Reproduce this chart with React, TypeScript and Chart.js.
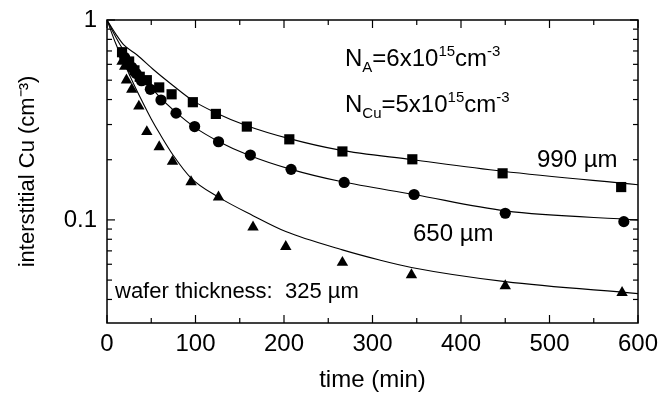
import React, { useEffect, useRef } from "react";
import { Chart, registerables } from "chart.js";

Chart.register(...registerables);

// ---- data (time in min, interstitial Cu normalised) ----
const T_990 = [17, 25, 31, 37, 45, 59, 73, 97, 123, 158, 206, 266, 345, 447, 581];
const Y_990 = [0.69, 0.62, 0.56, 0.52, 0.5, 0.46, 0.425, 0.388, 0.339, 0.293, 0.253, 0.22, 0.201, 0.171, 0.146];

const T_650 = [20, 28, 33, 39, 49, 61, 78, 99, 126, 162, 208, 268, 347, 450, 584];
const Y_650 = [0.65, 0.58, 0.54, 0.497, 0.45, 0.398, 0.342, 0.293, 0.246, 0.211, 0.179, 0.154, 0.134, 0.108, 0.098];

const T_325 = [17, 20, 22, 28, 36, 45, 59, 74, 95, 126, 165, 202, 266, 344, 450, 582];
const Y_325 = [0.62, 0.585, 0.5, 0.45, 0.37, 0.276, 0.232, 0.196, 0.155, 0.13, 0.092, 0.0735, 0.0612, 0.0531, 0.0468, 0.0433];

// fitted curves
const FIT_T_990 = [0, 10, 19, 34, 53, 72, 97, 122, 158, 206, 262, 345, 447, 600];
const FIT_Y_990 = [1, 0.85, 0.75, 0.668, 0.562, 0.48, 0.395, 0.345, 0.296, 0.255, 0.224, 0.2, 0.175, 0.15];

const FIT_T_650 = [0, 10, 20, 30, 40, 50, 61, 78, 98, 126, 161, 208, 263, 347, 450, 600];
const FIT_Y_650 = [1, 0.82, 0.69, 0.595, 0.52, 0.46, 0.405, 0.345, 0.293, 0.247, 0.21, 0.179, 0.156, 0.134, 0.111, 0.1];

const FIT_T_325 = [0, 10, 20, 30, 40, 50, 60, 75, 95, 126, 165, 202, 266, 308, 344, 450, 600];
const FIT_Y_325 = [1, 0.76, 0.6, 0.48, 0.39, 0.32, 0.268, 0.21, 0.162, 0.13, 0.105, 0.0874, 0.0708, 0.063, 0.0578, 0.0491, 0.0428];

// axes
const X_MIN = 0;
const X_MAX = 600;
const X_TICKS = [0, 50, 100, 150, 200, 250, 300, 350, 400, 450, 500, 550, 600];
const X_LABELED = [0, 100, 200, 300, 400, 500, 600];
const Y_MIN = 0.0305;
const Y_MAX = 1;
const Y_TICKS = [0.04, 0.05, 0.06, 0.07, 0.08, 0.09, 0.1, 0.2, 0.3, 0.4, 0.5, 0.6, 0.7, 0.8, 0.9, 1];
const Y_LABELED = [0.1, 1];

const X_TITLE = "time (min)";
const Y_TITLE = "interstitial Cu (cm\u207B\u00B3)";

type Part = [string, "n" | "sub" | "sup"];
const NOTES: { x: number; y: number; size: number; parts: Part[] }[] = [
  { x: 345, y: 66, size: 24, parts: [["N", "n"], ["A", "sub"], ["=6x10", "n"], ["15", "sup"], ["cm", "n"], ["-3", "sup"]] },
  { x: 345, y: 112, size: 24, parts: [["N", "n"], ["Cu", "sub"], ["=5x10", "n"], ["15", "sup"], ["cm", "n"], ["-3", "sup"]] },
  { x: 537, y: 167, size: 24, parts: [["990 \u00B5m", "n"]] },
  { x: 413, y: 241, size: 24, parts: [["650 \u00B5m", "n"]] },
  { x: 115, y: 298, size: 22, parts: [["wafer thickness:  325 \u00B5m", "n"]] },
];

const FONT = "'Liberation Sans', Arial, sans-serif";

const pts = (t: number[], y: number[]) => t.map((v, i) => ({ x: v, y: y[i] }));

const framePlugin = {
  id: "frame",
  afterDraw(chart: any) {
    const { ctx, chartArea: a, scales } = chart;
    ctx.save();
    ctx.strokeStyle = "#000";
    ctx.lineWidth = 1.5;
    ctx.strokeRect(a.left, a.top, a.right - a.left, a.bottom - a.top);
    ctx.lineWidth = 1.2;
    const line = (x1: number, y1: number, x2: number, y2: number) => {
      ctx.beginPath();
      ctx.moveTo(x1, y1);
      ctx.lineTo(x2, y2);
      ctx.stroke();
    };
    const xs = scales.x;
    X_TICKS.forEach((v) => {
      const px = xs.getPixelForValue(v);
      const len = X_LABELED.includes(v) ? 8 : 5;
      line(px, a.bottom, px, a.bottom - len);
      line(px, a.top, px, a.top + len);
    });
    const ys = scales.y;
    Y_TICKS.forEach((v) => {
      const py = ys.getPixelForValue(v);
      const len = Y_LABELED.includes(v) ? 8 : 5;
      line(a.left, py, a.left + len, py);
      line(a.right, py, a.right - len, py);
    });
    // annotations
    ctx.fillStyle = "#000";
    ctx.textBaseline = "alphabetic";
    ctx.textAlign = "left";
    NOTES.forEach((n) => {
      let x = n.x;
      n.parts.forEach(([txt, mode]) => {
        const s = mode === "n" ? n.size : Math.round(n.size * 0.64);
        const dy = mode === "sub" ? 6 : mode === "sup" ? -10 : 0;
        ctx.font = `${s}px ${FONT}`;
        ctx.fillText(txt, x, n.y + dy);
        x += ctx.measureText(txt).width;
      });
    });
    ctx.restore();
  },
};

export default function App() {
  const ref = useRef<HTMLCanvasElement | null>(null);
  useEffect(() => {
    if (!ref.current) return;
    const black = "#000";
    const chart = new Chart(ref.current, {
      type: "scatter",
      data: {
        datasets: [
          { label: "990", data: pts(T_990, Y_990), pointStyle: "rect", pointRadius: 7.2, backgroundColor: black, borderColor: black, borderWidth: 0, showLine: false },
          { label: "650", data: pts(T_650, Y_650), pointStyle: "circle", pointRadius: 5.6, backgroundColor: black, borderColor: black, borderWidth: 0, showLine: false },
          { label: "325", data: pts(T_325, Y_325), pointStyle: "triangle", pointRadius: 6.6, backgroundColor: black, borderColor: black, borderWidth: 0, showLine: false },
          { label: "fit990", data: pts(FIT_T_990, FIT_Y_990), showLine: true, pointRadius: 0, borderColor: black, borderWidth: 1.1, cubicInterpolationMode: "monotone" },
          { label: "fit650", data: pts(FIT_T_650, FIT_Y_650), showLine: true, pointRadius: 0, borderColor: black, borderWidth: 1.1, cubicInterpolationMode: "monotone" },
          { label: "fit325", data: pts(FIT_T_325, FIT_Y_325), showLine: true, pointRadius: 0, borderColor: black, borderWidth: 1.1, cubicInterpolationMode: "monotone" },
        ] as any,
      },
      options: {
        animation: false,
        responsive: false,
        layout: { padding: { top: 20, right: 24, left: 0, bottom: 0 } },
        plugins: { legend: { display: false }, tooltip: { enabled: false } },
        scales: {
          x: {
            type: "linear",
            min: X_MIN,
            max: X_MAX,
            afterBuildTicks: (s: any) => {
              s.ticks = X_TICKS.map((v) => ({ value: v }));
            },
            afterFit: (s: any) => {
              s.height = 77;
              s.paddingLeft = 0;
              s.paddingRight = 0;
            },
            grid: { display: false, drawTicks: false },
            border: { display: false },
            ticks: {
              autoSkip: false,
              maxRotation: 0,
              padding: 7,
              color: black,
              font: { family: FONT, size: 24 },
              callback: (v: any) => (X_LABELED.includes(Number(v)) ? String(v) : ""),
            },
            title: { display: true, text: X_TITLE, color: black, font: { family: FONT, size: 24 }, padding: { top: 0, bottom: 5 } },
          },
          y: {
            type: "logarithmic",
            min: Y_MIN,
            max: Y_MAX,
            afterBuildTicks: (s: any) => {
              s.ticks = Y_TICKS.map((v) => ({ value: v }));
            },
            afterFit: (s: any) => {
              s.width = 107;
              s.paddingTop = 0;
              s.paddingBottom = 0;
            },
            grid: { display: false, drawTicks: false },
            border: { display: false },
            ticks: {
              autoSkip: false,
              padding: 10,
              color: black,
              font: { family: FONT, size: 24 },
              callback: (v: any) => (Y_LABELED.includes(Number(v)) ? String(v) : ""),
            },
            title: { display: true, text: Y_TITLE, color: black, font: { family: FONT, size: 22 }, padding: { top: 15, bottom: 0 } },
          },
        },
      },
      plugins: [framePlugin],
    });
    return () => chart.destroy();
  }, []);
  return (
    <div style={{ position: "fixed", left: 0, top: 0, width: 662, height: 400, background: "#fff" }}>
      <canvas ref={ref} width={662} height={400} />
    </div>
  );
}
